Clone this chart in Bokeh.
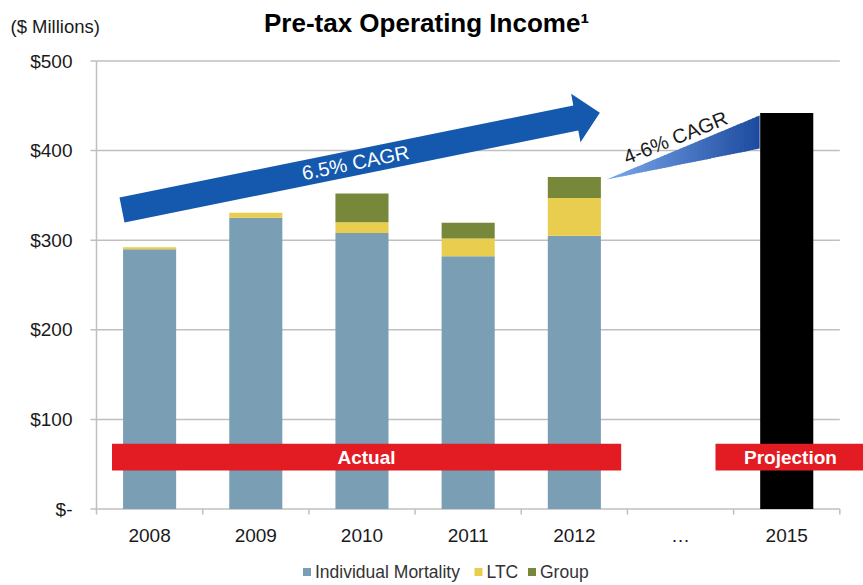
from bokeh.plotting import figure
from bokeh.models import Range1d, Label, ColumnDataSource
from bokeh.embed import file_html
from bokeh.resources import INLINE

# ---------------- data ----------------
categories = ["2008", "2009", "2010", "2011", "2012", "…", "2015"]
actual_years = ["2008", "2009", "2010", "2011", "2012"]
individual_mortality = [290, 325, 308, 282, 305]
ltc = [2, 5.5, 12, 20, 42]
group = [0, 0, 32, 17.5, 23.5]
projection_year = ["2015"]
projection_value = [442]
y_ticks = [0, 100, 200, 300, 400, 500]
y_tick_labels = ["$-", "$100", "$200", "$300", "$400", "$500"]
series_names = ["Individual Mortality", "LTC", "Group"]
series_colors = ["#7a9fb5", "#e9cd4f", "#77883b"]

FONT = "Liberation Sans"
GRID = "#bfbfbf"
W, H = 863, 585

# scale: one category = 106.19 px, 100 $M = 89.6 px; plot area starts at px 96 / 60.5
PPX = 106.19
PPY = 0.896
X_START = -96 / PPX
X_END = X_START + W / PPX
Y_END = 500 + 60.5 / PPY
Y_START = Y_END - H / PPY

pos = {c: i + 0.5 for i, c in enumerate(categories)}
n_cat = len(categories)

p = figure(width=W, height=H, x_range=Range1d(X_START, X_END), y_range=Range1d(Y_START, Y_END),
           output_backend="svg", toolbar_location=None, x_axis_type=None, y_axis_type=None,
           min_border=0)
p.outline_line_color = None

# gridlines + axis lines
p.segment(x0=[0] * len(y_ticks), y0=y_ticks, x1=[n_cat] * len(y_ticks), y1=y_ticks,
          line_color=GRID, line_width=1.5)
p.segment(x0=[0], y0=[0], x1=[0], y1=[max(y_ticks)], line_color=GRID, line_width=1.5)
# y ticks and labels
p.segment(x0=[-6 / PPX] * len(y_ticks), y0=y_ticks, x1=[0] * len(y_ticks), y1=y_ticks,
          line_color=GRID, line_width=1.5)
p.text(x=[-24 / PPX] * len(y_ticks), y=y_ticks, text=y_tick_labels, text_align="right",
       text_baseline="middle", text_font_size="19px", text_color="#1a1a1a",
       text_font={"value": FONT})
# x category boundary ticks and labels
bounds = list(range(n_cat + 1))
p.segment(x0=bounds, y0=[0] * len(bounds), x1=bounds, y1=[-5.5 / PPY] * len(bounds),
          line_color=GRID, line_width=1.5)
p.text(x=[pos[c] for c in categories], y=[-26.5 / PPY] * n_cat, text=categories,
       text_align="center", text_baseline="middle", text_font_size="19px",
       text_color="#1a1a1a", text_font={"value": FONT})

# stacked bars
src = ColumnDataSource(dict(x=[pos[y] for y in actual_years], im=individual_mortality,
                            ltc=ltc, grp=group))
renderers = p.vbar_stack(["im", "ltc", "grp"], x="x", width=0.5, fill_color=series_colors,
                         line_color=None, source=src)
p.vbar(x=[pos[y] for y in projection_year], top=projection_value, width=0.5,
       fill_color="black", line_color=None)

# red banners
p.quad(left=[0.146, 5.829], right=[4.941, X_END + 1], bottom=[43.0, 43.0], top=[72.8, 72.8],
       fill_color="#e31b23", line_color=None)
p.add_layout(Label(x=2.543, y=57.9, text="Actual", text_font=FONT, text_font_style="bold",
                   text_font_size="19px", text_color="white", text_align="center",
                   text_baseline="middle"))
p.add_layout(Label(x=6.535, y=57.9, text="Projection", text_font=FONT, text_font_style="bold",
                   text_font_size="19px", text_color="white", text_align="center",
                   text_baseline="middle"))

# big blue arrow
arrow_x = [0.2166, 4.490, 4.470, 4.740, 4.558, 4.537, 0.2637]
arrow_y = [347.7, 450.3, 463.4, 442.2, 409.4, 422.5, 319.8]
p.patch(arrow_x, arrow_y, fill_color="#1459ad", line_color=None)
p.add_layout(Label(x=2.439, y=386.7, text="6.5% CAGR", angle=0.2007, text_font=FONT,
                   text_font_size="20px", text_color="white", text_align="center",
                   text_baseline="middle"))

# gradient wedge
wx0, wy0 = 4.803, 367.7
wx1, wyt, wyb = 6.245, 439.2, 402.3
c0 = (0x7c, 0xa8, 0xec)
c1 = (0x1c, 0x4a, 0x9e)
N = 40
xs, ys, cols = [], [], []
for i in range(N):
    t0 = i / N
    t1 = min(1.0, (i + 1.3) / N)
    xa = wx0 + (wx1 - wx0) * t0
    xb = wx0 + (wx1 - wx0) * t1
    xs.append([xa, xb, xb, xa])
    ys.append([wy0 + (wyt - wy0) * t0, wy0 + (wyt - wy0) * t1,
               wy0 + (wyb - wy0) * t1, wy0 + (wyb - wy0) * t0])
    tm = (i + 0.5) / N
    cols.append("#%02x%02x%02x" % tuple(int(round(a + (b - a) * tm)) for a, b in zip(c0, c1)))
p.patches(xs, ys, fill_color=cols, line_color=None)
p.add_layout(Label(x=5.452, y=414.6, text="4-6% CAGR", angle=0.384, text_font=FONT,
                   text_font_size="20px", text_color="#1a1a1a", text_align="center",
                   text_baseline="middle"))

# title & unit
p.add_layout(Label(x=X_START + 426 / PPX, y=Y_END - 22 / PPY, text="Pre-tax Operating Income¹",
                   text_font=FONT, text_font_style="bold", text_font_size="26px",
                   text_color="black", text_align="center", text_baseline="middle"))
p.add_layout(Label(x=X_START + 10 / PPX, y=Y_END - 26 / PPY, text="($ Millions)",
                   text_font=FONT, text_font_size="18.5px", text_color="#1a1a1a",
                   text_align="left", text_baseline="middle"))

# legend (square swatch + label)
leg_px = [306.5, 478, 531.5]
leg_y = Y_END - 571.5 / PPY
p.scatter(x=[X_START + v / PPX for v in leg_px], y=[leg_y] * 3, marker="square", size=8,
          fill_color=series_colors, line_color=None)
p.text(x=[X_START + (v + 8) / PPX for v in leg_px], y=[leg_y] * 3, text=series_names,
       text_align="left", text_baseline="middle", text_font_size="17.5px",
       text_color="#333333", text_font={"value": FONT})

open("out.html", "w").write(file_html(p, INLINE))
